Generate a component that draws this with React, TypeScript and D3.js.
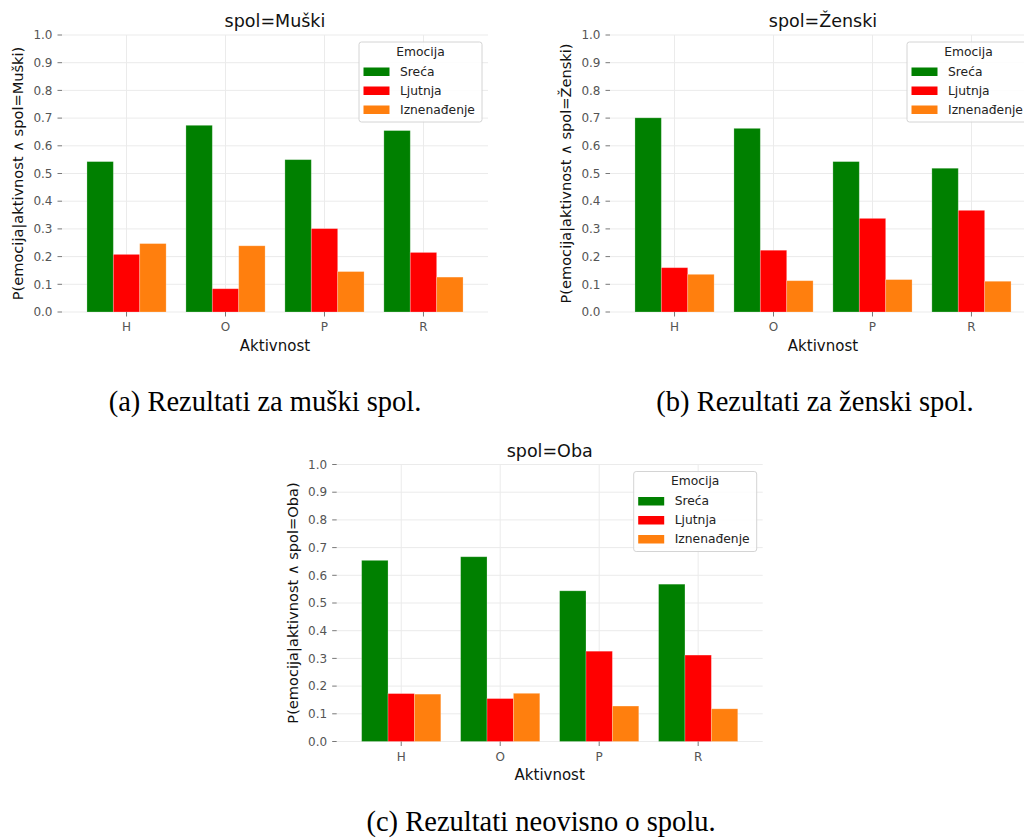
import React from "react";
import * as d3 from "d3";

// Activities on the x axis and emotion series
const activities = ["H", "O", "P", "R"];
const emotions = ["Sreća", "Ljutnja", "Iznenađenje"];
const emotionColors = ["#008000", "#ff0000", "#ff7f0e"];
const yTicks = [0, 0.1, 0.2, 0.3, 0.4, 0.5, 0.6, 0.7, 0.8, 0.9, 1.0];

// P(emotion | activity ∧ gender), one array per emotion, ordered H, O, P, R
const muskiSreca = [0.543, 0.674, 0.55, 0.655];
const muskiLjutnja = [0.208, 0.084, 0.301, 0.215];
const muskiIznenadenje = [0.247, 0.239, 0.146, 0.126];

const zenskiSreca = [0.701, 0.663, 0.543, 0.519];
const zenskiLjutnja = [0.16, 0.223, 0.338, 0.367];
const zenskiIznenadenje = [0.136, 0.113, 0.117, 0.111];

const obaSreca = [0.654, 0.667, 0.544, 0.568];
const obaLjutnja = [0.173, 0.155, 0.326, 0.312];
const obaIznenadenje = [0.171, 0.174, 0.128, 0.118];

const FONT = "DejaVu Sans, sans-serif";
const SERIF = "Liberation Serif, Times New Roman, serif";
const PW = 426;
const PH = 277;

type PanelProps = {
  left: number;
  top: number;
  spol: string;
  series: number[][];
};

function Panel({ left, top, spol, series }: PanelProps) {
  const x = d3.scalePoint<string>().domain(activities).range([0, PW]).padding(0.652);
  const step = x.step();
  const groupW = step * 0.8;
  const barW = groupW / emotions.length;
  const y = d3.scaleLinear().domain([0, 1]).range([PH, 0]);
  const fmt = d3.format(".1f");

  const legendW = 123;
  const legendH = 80;
  const lx = PW - 129;
  const ly = 7;

  return (
    <g transform={`translate(${left},${top})`}>
      {/* grid */}
      {yTicks.map((t) => (
        <line key={"gy" + t} x1={0} x2={PW} y1={y(t)} y2={y(t)} stroke="#ebebeb" strokeWidth={1} />
      ))}
      {activities.map((a) => (
        <line key={"gx" + a} x1={x(a)} x2={x(a)} y1={0} y2={PH} stroke="#ebebeb" strokeWidth={1} />
      ))}

      {/* bars */}
      {activities.map((a, i) =>
        series.map((vals, s) => {
          const bx = (x(a) as number) - groupW / 2 + s * barW;
          return (
            <rect
              key={a + s}
              x={bx}
              y={y(vals[i])}
              width={barW}
              height={PH - y(vals[i])}
              fill={emotionColors[s]}
              stroke="#ffffff"
              strokeOpacity={0.3}
              strokeWidth={0.8}
            />
          );
        })
      )}

      {/* y axis ticks */}
      {yTicks.map((t) => (
        <g key={"ty" + t} transform={`translate(0,${y(t)})`}>
          <line x1={-4.5} x2={0} stroke="#555" strokeWidth={0.8} />
          <text x={-9.5} dy="0.35em" textAnchor="end" fontFamily={FONT} fontSize={12} fill="#555">
            {fmt(t)}
          </text>
        </g>
      ))}

      {/* x axis ticks */}
      {activities.map((a) => (
        <g key={"tx" + a} transform={`translate(${x(a)},${PH})`}>
          <line y1={0} y2={4.5} stroke="#555" strokeWidth={0.8} />
          <text y={19} textAnchor="middle" fontFamily={FONT} fontSize={12} fill="#555">
            {a}
          </text>
        </g>
      ))}

      {/* labels */}
      <text x={PW / 2} y={-8} textAnchor="middle" fontFamily={FONT} fontSize={17.5} fill="#111">
        {`spol=${spol}`}
      </text>
      <text x={PW / 2} y={PH + 38.5} textAnchor="middle" fontFamily={FONT} fontSize={15} fill="#111">
        Aktivnost
      </text>
      <text
        transform={`translate(${-39},${PH / 2}) rotate(-90)`}
        textAnchor="middle"
        fontFamily={FONT}
        fontSize={14.6}
        fill="#111"
      >
        {`P(emocija|aktivnost ∧ spol=${spol})`}
      </text>

      {/* legend */}
      <g transform={`translate(${lx},${ly})`}>
        <rect width={legendW} height={legendH} rx={2.5} fill="#ffffff" fillOpacity={0.85} stroke="#d4d4d4" strokeWidth={1} />
        <text x={legendW / 2} y={13.5} textAnchor="middle" fontFamily={FONT} fontSize={12.3} fill="#222">
          Emocija
        </text>
        {emotions.map((e, s) => (
          <g key={e} transform={`translate(0,${29.5 + s * 19})`}>
            <rect x={4.5} y={-4} width={26} height={8.5} fill={emotionColors[s]} />
            <text x={41} dy="0.36em" fontFamily={FONT} fontSize={12.3} fill="#222">
              {e}
            </text>
          </g>
        ))}
      </g>
    </g>
  );
}

export default function App() {
  return (
    <svg
      width={1024}
      height={838}
      viewBox="0 0 1024 838"
      style={{ position: "absolute", left: 0, top: 0, background: "#ffffff" }}
    >
      <rect width={1024} height={838} fill="#ffffff" />
      <Panel left={62} top={35} spol="Muški" series={[muskiSreca, muskiLjutnja, muskiIznenadenje]} />
      <Panel left={610} top={35} spol="Ženski" series={[zenskiSreca, zenskiLjutnja, zenskiIznenadenje]} />
      <Panel left={336.7} top={464.5} spol="Oba" series={[obaSreca, obaLjutnja, obaIznenadenje]} />

      <text x={265} y={411} textAnchor="middle" fontFamily={SERIF} fontSize={28.5} fill="#000">
        (a) Rezultati za muški spol.
      </text>
      <text x={815} y={411} textAnchor="middle" fontFamily={SERIF} fontSize={28.5} fill="#000">
        (b) Rezultati za ženski spol.
      </text>
      <text x={541} y={831} textAnchor="middle" fontFamily={SERIF} fontSize={28.5} fill="#000">
        (c) Rezultati neovisno o spolu.
      </text>
    </svg>
  );
}
